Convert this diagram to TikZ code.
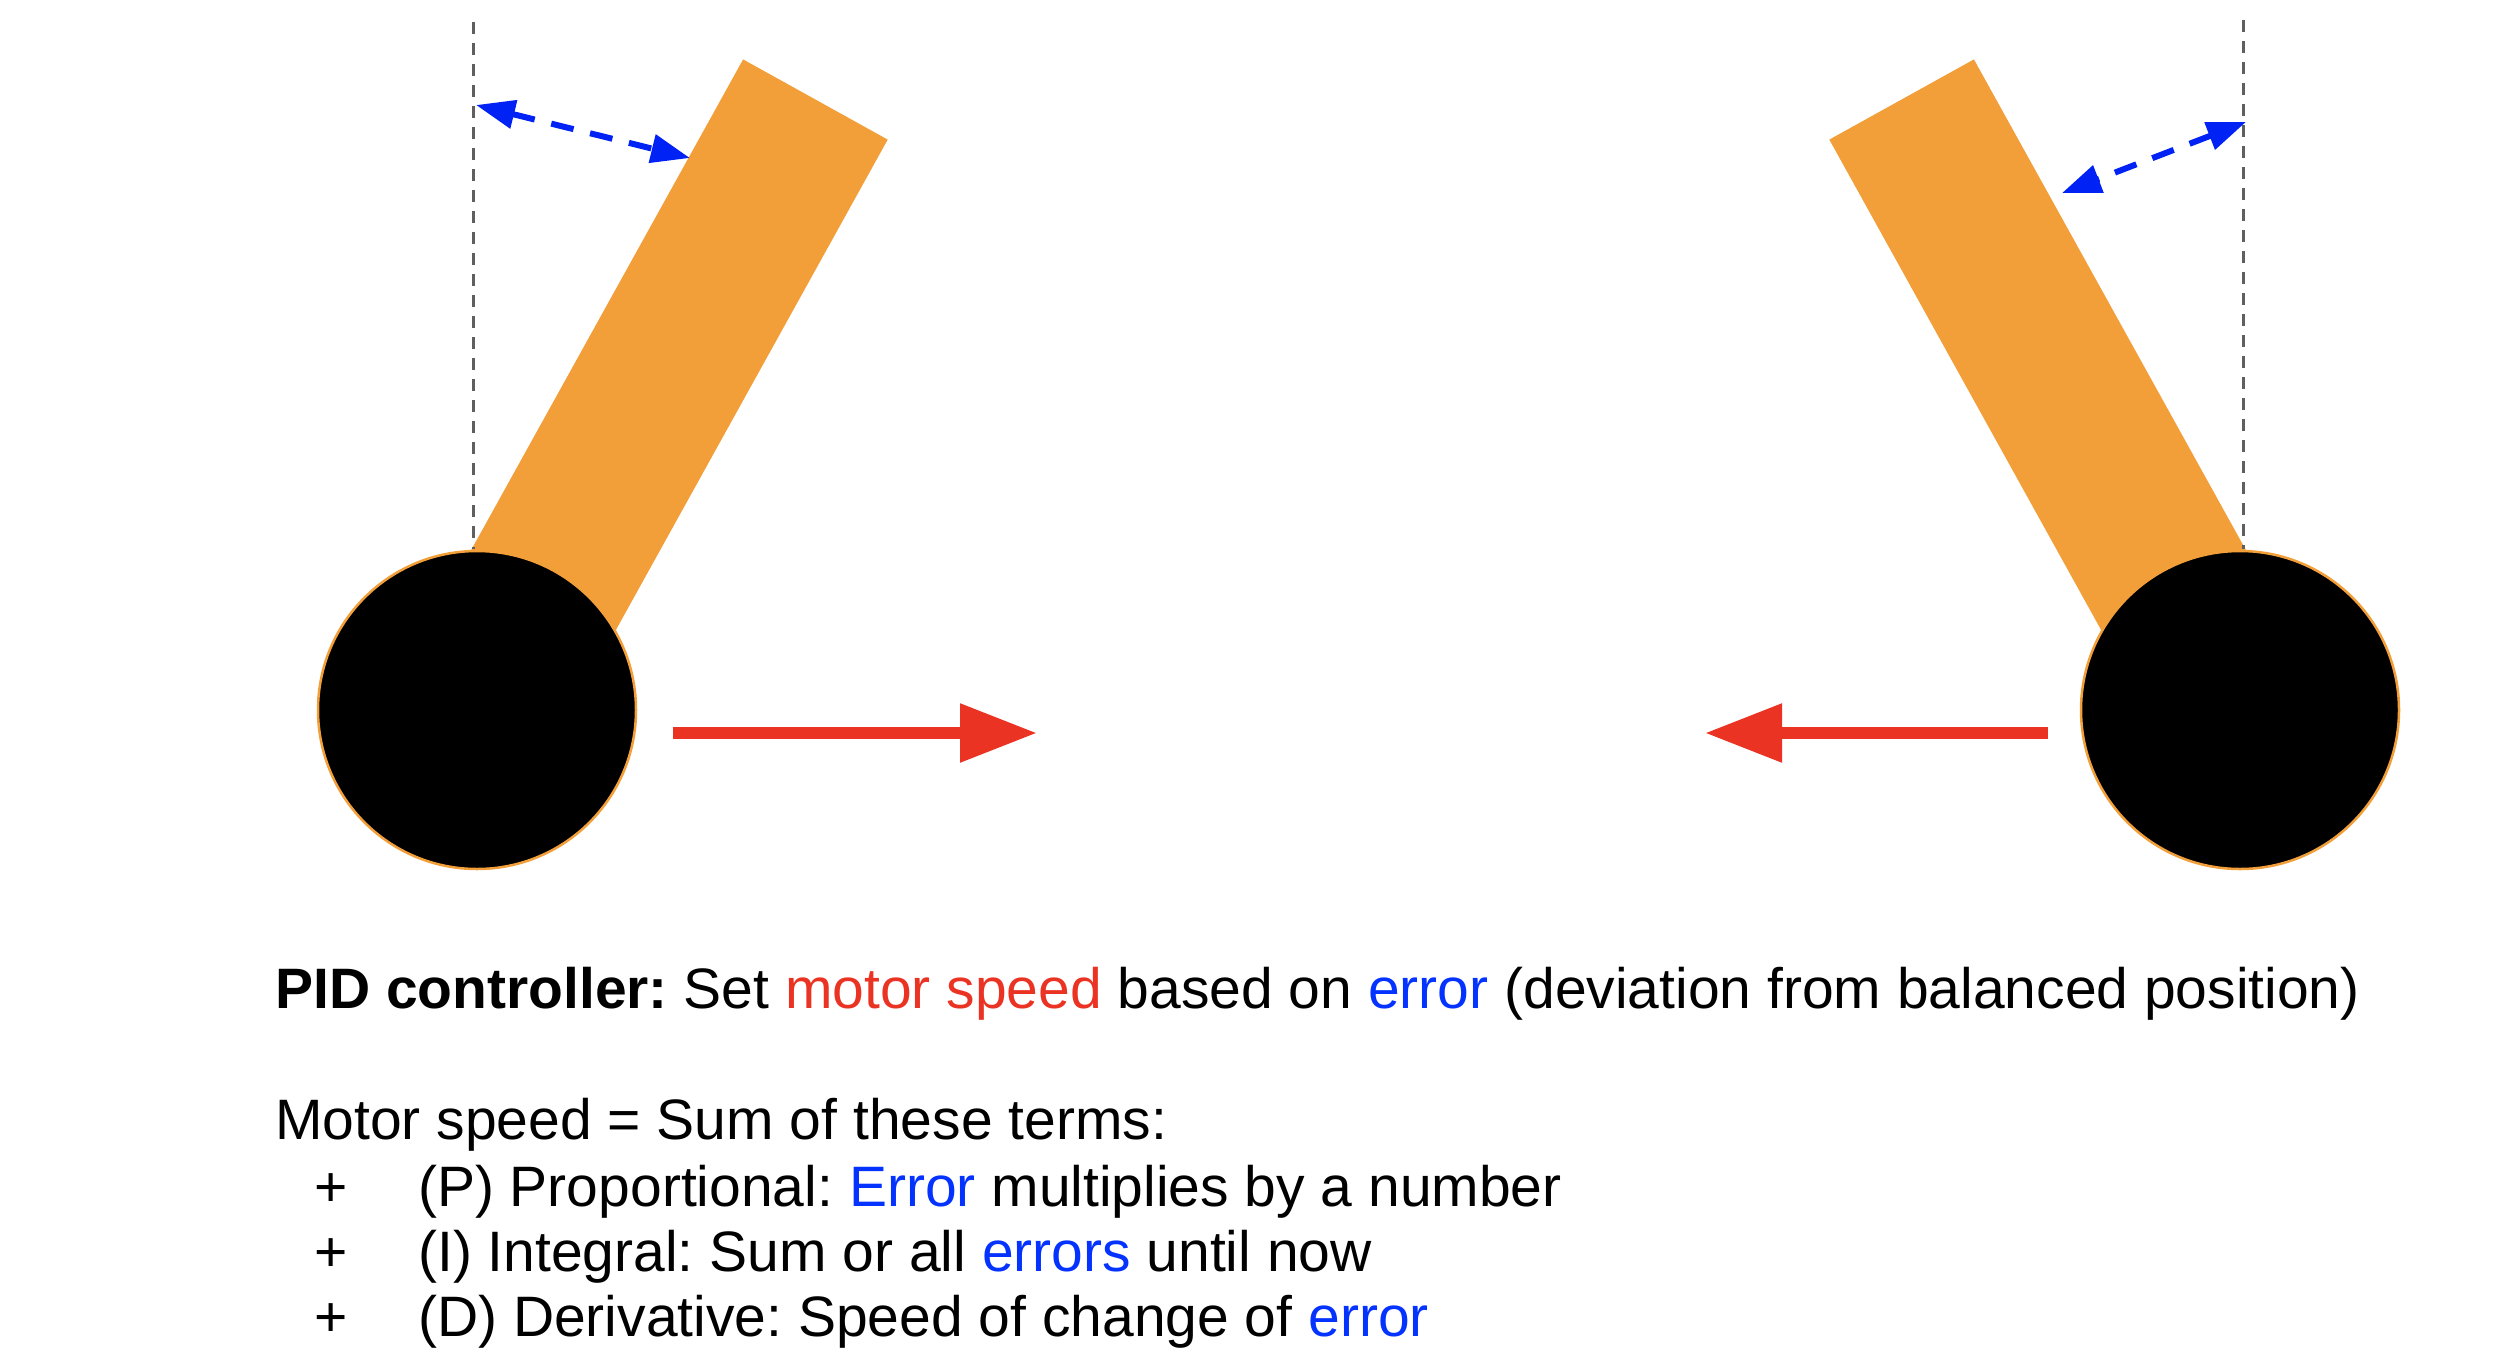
\documentclass[tikz,border=0pt]{standalone}
\usepackage{fontspec}
\setmainfont{Liberation Sans}
\usetikzlibrary{arrows.meta}
\frenchspacing
\definecolor{barorange}{RGB}{242,158,57}
\definecolor{arrred}{RGB}{235,51,35}
\definecolor{arrblue}{RGB}{0,34,245}
\definecolor{txtblue}{RGB}{4,51,255}
\definecolor{dashgray}{RGB}{95,95,95}
\tikzset{
  bar/.style={fill=barorange, draw=none},
  wheel/.style={circle, fill=black, draw=barorange, line width=2.5pt, minimum size=318pt, inner sep=0pt},
  plumb/.style={draw=dashgray, line width=3pt, dash pattern=on 12pt off 9pt},
  errarrow/.style={draw=arrblue, line width=6pt, dash pattern=on 23pt off 17pt, {Triangle[length=39pt,width=28pt]}-{Triangle[length=39pt,width=28pt]}},
  motorarrow/.style={draw=arrred, line width=12pt, -{Triangle[length=77pt,width=56pt]}},
  txt/.style={anchor=base west, inner sep=0pt, font=\fontsize{57}{70}\selectfont}
}
\begin{document}
\begin{tikzpicture}[x=1pt,y=-1pt]
\useasboundingbox (0,0) rectangle (2500,1360);
% left pendulum
\fill[bar] (404.7,669.9) -- (743.1,59.4) -- (887.7,139.6) -- (549.3,750.1) -- cycle;
\node[wheel] (w1) at (477,710) {};
\coordinate (p1top) at (473,22);
\coordinate (p1bot) at (473,549);
\draw[plumb] (p1top) -- (p1bot);
\coordinate (e1a) at (476,105);
\coordinate (e1b) at (690,158);
\draw[errarrow] (e1a) -- (e1b);
\coordinate (m1a) at (673,733);
\coordinate (m1b) at (1037,733);
\draw[motorarrow] (m1a) -- (m1b);
% right pendulum
\fill[bar] (2312.3,669.9) -- (1973.9,59.4) -- (1829.3,139.6) -- (2167.7,750.1) -- cycle;
\node[wheel] (w2) at (2240,710) {};
\coordinate (p2top) at (2243,20);
\coordinate (p2bot) at (2243,549);
\draw[plumb] (p2top) -- (p2bot);
\coordinate (e2a) at (2246,122);
\coordinate (e2b) at (2062,193);
\draw[errarrow] (e2a) -- (e2b);
\coordinate (m2a) at (2048,733);
\coordinate (m2b) at (1705,733);
\draw[motorarrow] (m2a) -- (m2b);
% text
\node[txt] (t1) at (275,1008) {\textbf{PID controller:} Set \textcolor{arrred}{motor speed} based on \textcolor{txtblue}{error} (deviation from balanced position)};
\node[txt] (t2) at (275,1139) {Motor speed = Sum of these terms:};
\node[txt] (p1) at (314,1206) {+};
\node[txt] (t3) at (418,1206) {(P) Proportional: \textcolor{txtblue}{Error} multiplies by a number};
\node[txt] (p2) at (314,1271) {+};
\node[txt] (t4) at (418,1271) {(I) Integral: Sum or all \textcolor{txtblue}{errors} until now};
\node[txt] (p3) at (314,1336) {+};
\node[txt] (t5) at (418,1336) {(D) Derivative: Speed of change of \textcolor{txtblue}{error}};
\end{tikzpicture}
\end{document}
